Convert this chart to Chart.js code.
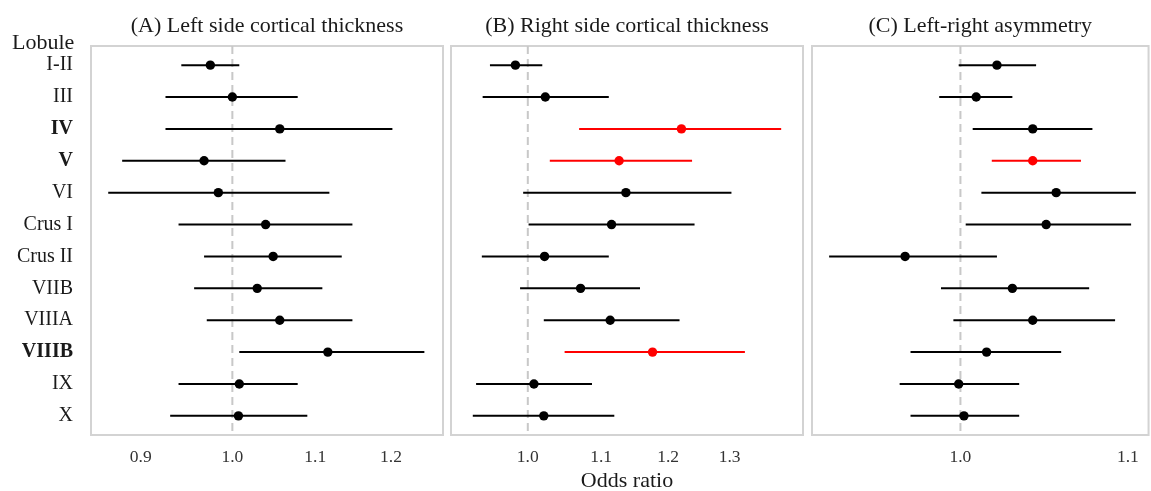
<!DOCTYPE html>
<html>
<head>
<meta charset="utf-8">
<script src="https://cdn.jsdelivr.net/npm/chart.js@4.4.1/dist/chart.umd.min.js"></script>
<style>
  body { margin: 0; background: #fff; }
  #wrap { position: relative; width: 1151px; height: 491px; font-family: "Liberation Serif", "Times New Roman", serif; }
  .panel { position: absolute; top: 0; }
  #lobule { position: absolute; left: 12px; top: 31px; font-size: 22px; line-height: 22px; color: #1a1a1a; }
</style>
</head>
<body>
<div id="wrap">
  <div class="panel" style="left:0"><canvas id="chartA" width="450" height="491"></canvas></div>
  <div class="panel" style="left:450px"><canvas id="chartB" width="360" height="491"></canvas></div>
  <div class="panel" style="left:810px"><canvas id="chartC" width="341" height="491"></canvas></div>
  <div id="lobule">Lobule</div>
</div>
<script>
const lobules = ["I-II", "III", "IV", "V", "VI", "Crus I", "Crus II", "VIIB", "VIIIA", "VIIIB", "IX", "X"];
const boldLobules = ["IV", "V", "VIIIB"];

// (A) left side
const leftOR = [0.975, 1.000, 1.056, 0.968, 0.984, 1.039, 1.048, 1.029, 1.056, 1.116, 1.008, 1.007];
const leftLo = [0.943, 0.926, 0.926, 0.881, 0.867, 0.940, 0.968, 0.957, 0.971, 1.008, 0.940, 0.931];
const leftHi = [1.008, 1.078, 1.202, 1.063, 1.118, 1.148, 1.134, 1.109, 1.148, 1.247, 1.078, 1.090];
const leftSig = [0, 0, 0, 0, 0, 0, 0, 0, 0, 0, 0, 0];

// (B) right side
const rightOR = [0.984, 1.023, 1.221, 1.126, 1.136, 1.115, 1.022, 1.071, 1.113, 1.176, 1.008, 1.021];
const rightLo = [0.952, 0.943, 1.069, 1.029, 0.994, 1.001, 0.942, 0.990, 1.021, 1.049, 0.935, 0.931];
const rightHi = [1.019, 1.111, 1.390, 1.238, 1.303, 1.242, 1.111, 1.157, 1.218, 1.326, 1.087, 1.119];
const rightSig = [0, 0, 1, 1, 0, 0, 0, 0, 0, 1, 0, 0];

// (C) asymmetry
const asymOR = [1.021, 1.009, 1.042, 1.042, 1.056, 1.050, 0.969, 1.030, 1.042, 1.015, 0.999, 1.002];
const asymLo = [0.999, 0.988, 1.007, 1.018, 1.012, 1.003, 0.928, 0.989, 0.996, 0.972, 0.966, 0.972];
const asymHi = [1.044, 1.030, 1.078, 1.071, 1.105, 1.102, 1.021, 1.076, 1.092, 1.059, 1.034, 1.034];
const asymSig = [0, 0, 0, 1, 0, 0, 0, 0, 0, 0, 0, 0];

const ticksA = [0.9, 1.0, 1.1, 1.2];
const ticksB = [1.0, 1.1, 1.2, 1.3];
const ticksC = [1.0, 1.1];

const serif = '"Liberation Serif", "Times New Roman", serif';

const framePlugin = {
  id: "frame",
  beforeDatasetsDraw(chart) {
    const { ctx, chartArea: a, scales } = chart;
    ctx.save();
    ctx.strokeStyle = "#d3d3d3";
    ctx.lineWidth = 2;
    ctx.strokeRect(a.left, a.top, a.right - a.left, a.bottom - a.top);
    const px = scales.x.getPixelForValue(1);
    ctx.strokeStyle = "#c8c8c8";
    ctx.setLineDash([8, 5]);
    ctx.beginPath();
    ctx.moveTo(px, a.top);
    ctx.lineTo(px, a.bottom);
    ctx.stroke();
    ctx.restore();
  }
};

function makePanel(id, title, or, lo, hi, sig, tickVals, xMin, xMax, opts) {
  const colorOf = (i) => (sig[i] ? "#ff0000" : "#000000");
  const datasets = lobules.map((name, i) => ({
    data: [{ x: lo[i], y: i + 1 }, { x: hi[i], y: i + 1 }],
    showLine: true,
    borderColor: colorOf(i),
    borderWidth: 2,
    pointRadius: 0
  }));
  datasets.push({
    data: lobules.map((name, i) => ({ x: or[i], y: i + 1 })),
    pointRadius: 4.7,
    pointBackgroundColor: lobules.map((name, i) => colorOf(i)),
    pointBorderWidth: 0
  });

  new Chart(document.getElementById(id), {
    type: "scatter",
    data: { datasets },
    options: {
      responsive: false,
      animation: false,
      layout: { padding: opts.padding, autoPadding: false },
      plugins: {
        legend: { display: false },
        tooltip: { enabled: false },
        title: {
          display: true,
          text: title,
          fullSize: false,
          color: "#1a1a1a",
          font: { family: serif, size: 22, weight: "normal", lineHeight: 1 },
          padding: { top: 15, bottom: 9 }
        }
      },
      scales: {
        x: {
          type: "logarithmic",
          min: xMin,
          max: xMax,
          afterBuildTicks: (scale) => { scale.ticks = tickVals.map((v) => ({ value: v })); },
          afterFit: (scale) => { scale.height = 56; },
          grid: { display: false, drawTicks: false },
          border: { display: false },
          ticks: {
            padding: 12,
            color: "#333",
            font: { family: serif, size: 17.5 },
            callback: (v) => Number(v).toFixed(1)
          },
          title: {
            display: !!opts.xTitle,
            text: opts.xTitle || "",
            color: "#1a1a1a",
            font: { family: serif, size: 22, lineHeight: 0.85 },
            padding: { top: 0, bottom: 0 }
          }
        },
        y: {
          type: "linear",
          reverse: true,
          min: 0.4,
          max: 12.6,
          display: opts.showY,
          afterBuildTicks: (scale) => { scale.ticks = lobules.map((n, i) => ({ value: i + 1 })); },
          afterFit: (scale) => { scale.width = opts.showY ? 91 : 0; },
          grid: { display: false, drawTicks: false },
          border: { display: false },
          ticks: {
            padding: 18,
            color: "#1a1a1a",
            font: (c) => ({
              family: serif,
              size: 20,
              weight: c.tick && boldLobules.includes(lobules[c.tick.value - 1]) ? "bold" : "normal"
            }),
            callback: (v) => lobules[v - 1]
          }
        }
      }
    },
    plugins: [framePlugin]
  });
}

makePanel("chartA", "(A) Left side cortical thickness", leftOR, leftLo, leftHi, leftSig,
  ticksA, 0.851, 1.274, { padding: { left: 0, right: 7, top: 0, bottom: 0 }, showY: true });
makePanel("chartB", "(B) Right side cortical thickness", rightOR, rightLo, rightHi, rightSig,
  ticksB, 0.905, 1.430, { padding: { left: 1, right: 7, top: 0, bottom: 0 }, showY: false, xTitle: "Odds ratio" });
makePanel("chartC", "(C) Left-right asymmetry", asymOR, asymLo, asymHi, asymSig,
  ticksC, 0.919, 1.113, { padding: { left: 2, right: 1, top: 0, bottom: 0 }, showY: false });
</script>
</body>
</html>
